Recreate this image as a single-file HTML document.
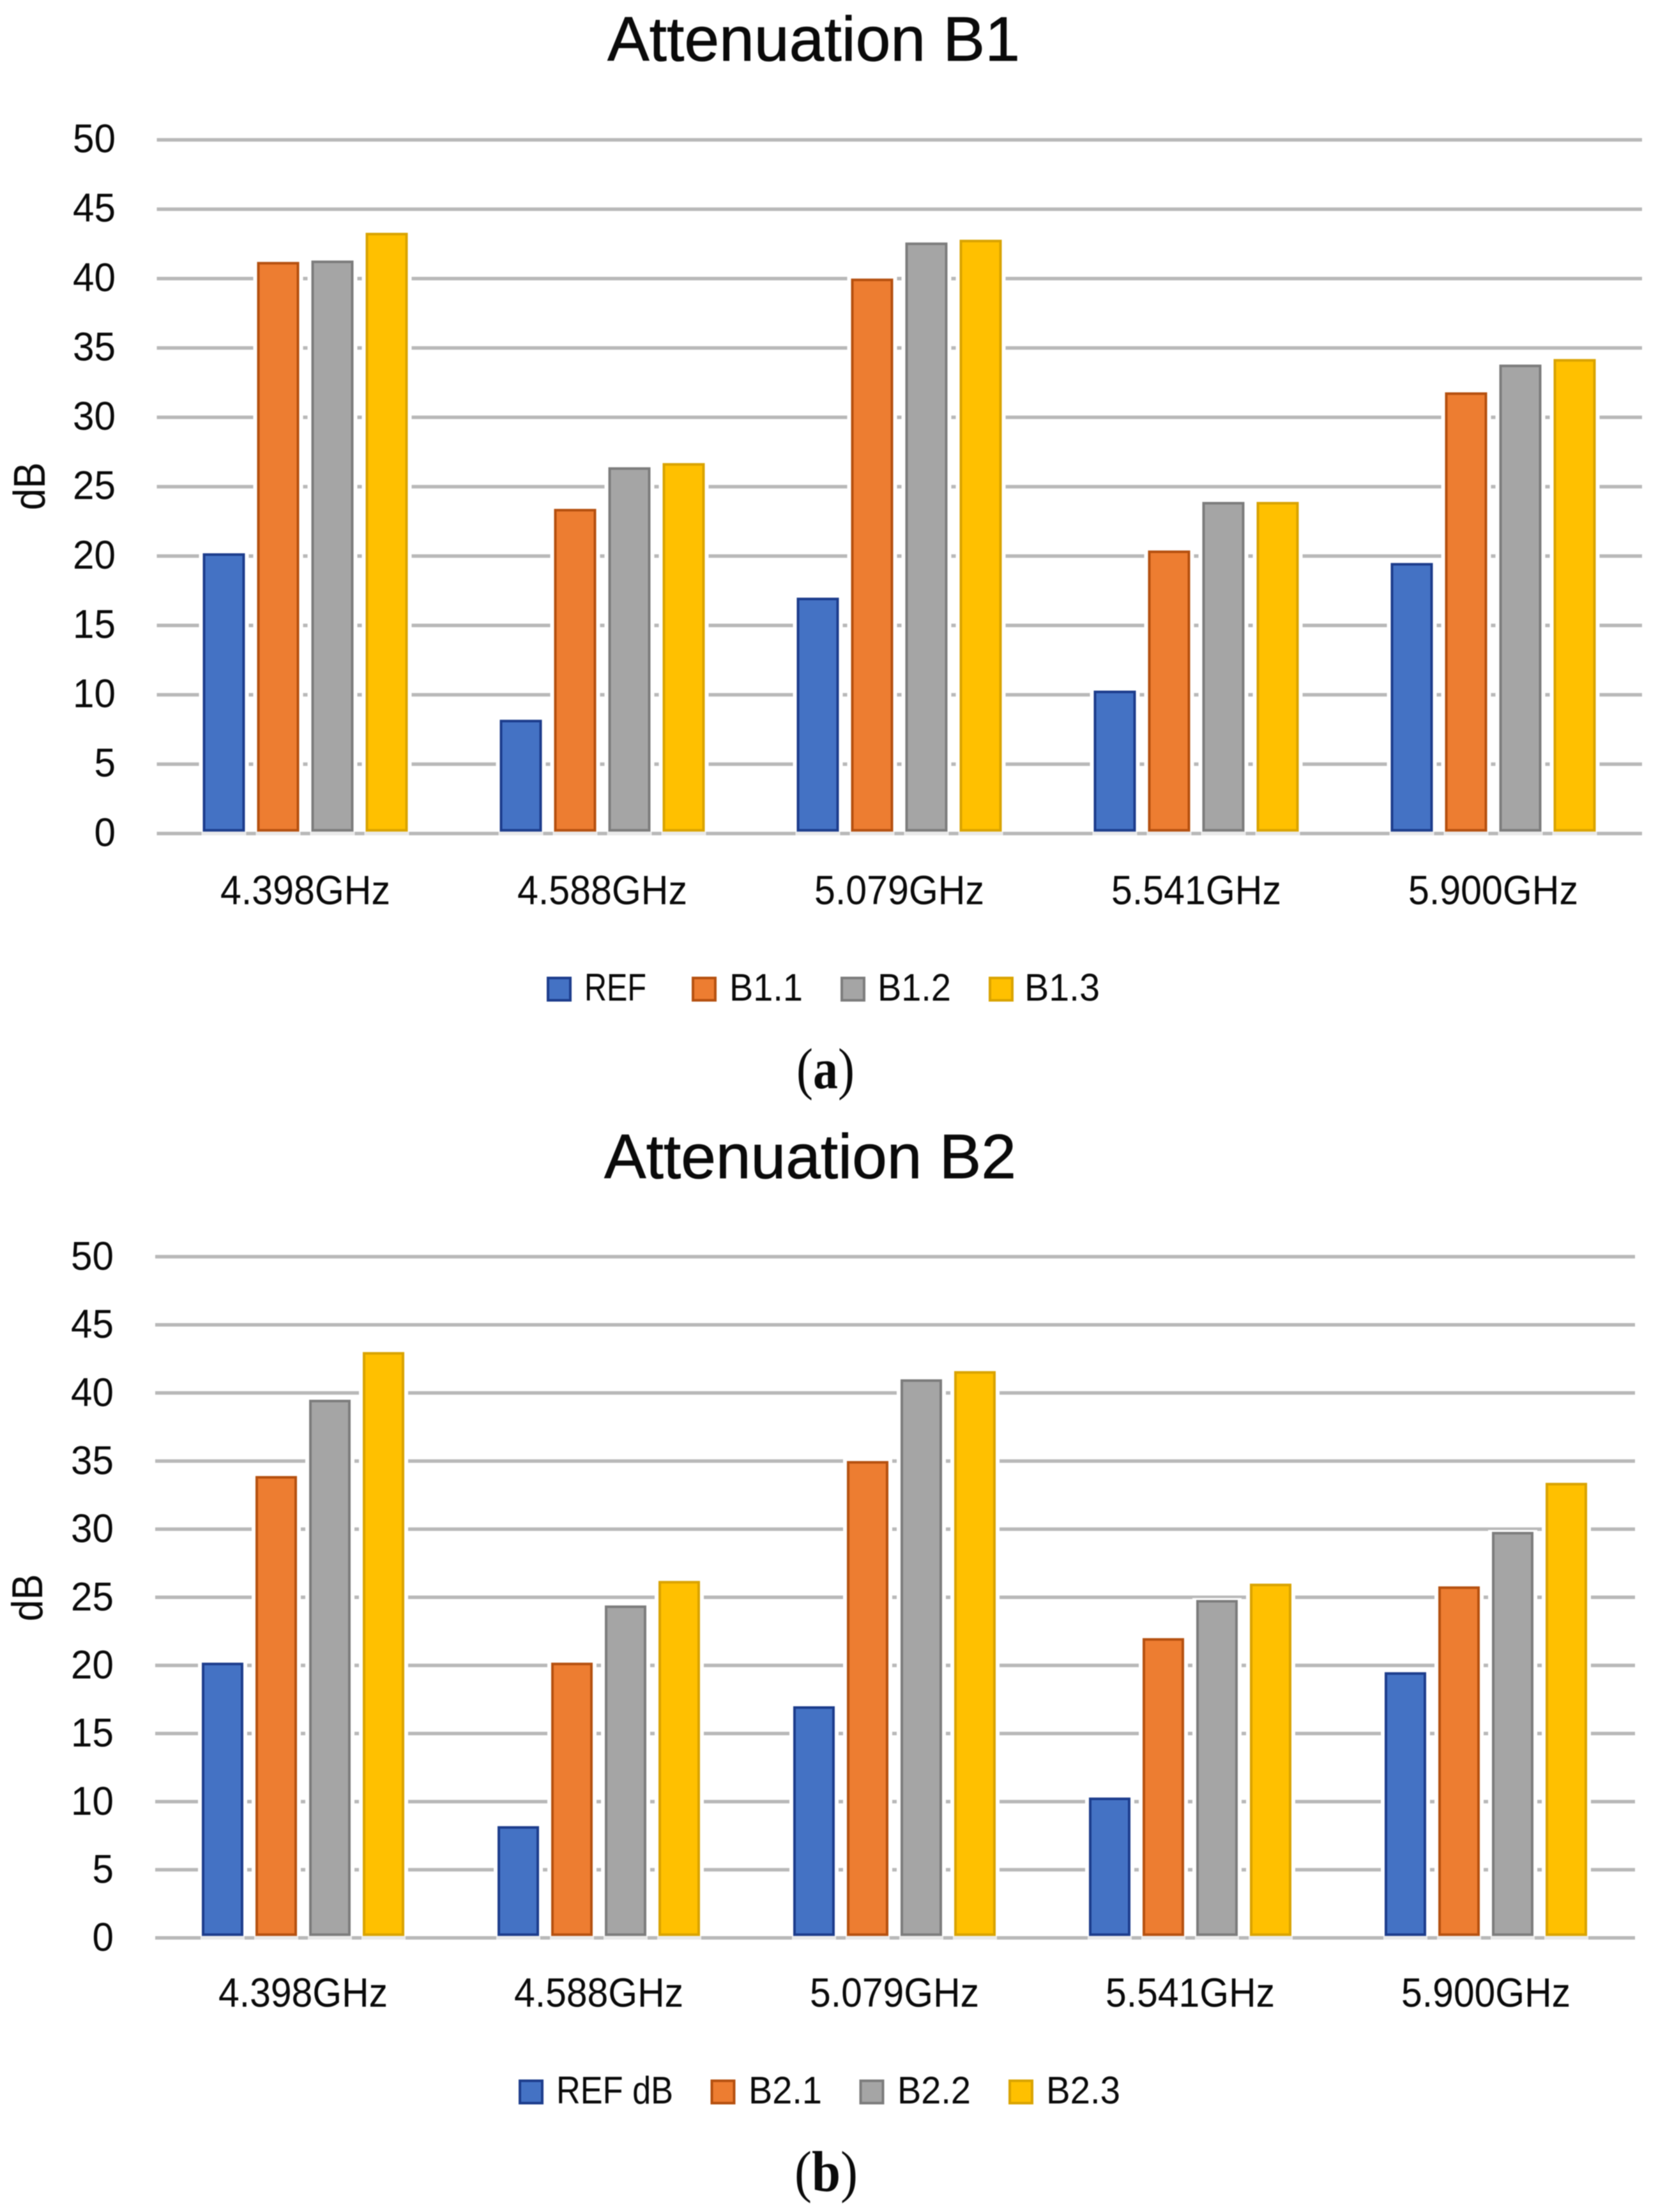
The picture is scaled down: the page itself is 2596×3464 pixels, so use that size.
<!DOCTYPE html>
<html lang="en">
<head>
<meta charset="utf-8">
<title>Attenuation B1 and B2</title>
<style>
  html, body { margin: 0; padding: 0; background: #fff; }
  svg { display: block; filter: blur(0.7px); }
  text { font-family: "Liberation Sans", sans-serif; fill: #0a0a0a; }
  .chart-title { stroke: #0a0a0a; stroke-width: 0.8; }
  .caption { font-family: "Liberation Serif", serif; }
</style>
</head>
<body>
<svg id="figure" xmlns="http://www.w3.org/2000/svg" width="2596" height="3464" viewBox="0 0 2596 3464">
  <rect x="0" y="0" width="2596" height="3464" fill="#ffffff"/>

  <g id="chart-a">
    <text class="chart-title" x="951" y="95" font-size="98" textLength="646" lengthAdjust="spacingAndGlyphs">Attenuation B1</text>
    <text transform="translate(70 799) rotate(-90)" font-size="70" textLength="75" lengthAdjust="spacingAndGlyphs">dB</text>
    <g id="plot-a"></g>
    <g>
      <rect x="858" y="1531.5" width="35" height="35" fill="#4472c4" stroke="#1c3c8c" stroke-width="4"/>
      <text x="915" y="1567" font-size="60" textLength="97" lengthAdjust="spacingAndGlyphs">REF</text>
      <rect x="1085" y="1531.5" width="35" height="35" fill="#ed7d31" stroke="#b5500f" stroke-width="4"/>
      <text x="1142" y="1567" font-size="60" textLength="115" lengthAdjust="spacingAndGlyphs">B1.1</text>
      <rect x="1318" y="1531.5" width="35" height="35" fill="#a5a5a5" stroke="#7c7c7c" stroke-width="4"/>
      <text x="1374" y="1567" font-size="60" textLength="115" lengthAdjust="spacingAndGlyphs">B1.2</text>
      <rect x="1550" y="1531.5" width="35" height="35" fill="#ffc000" stroke="#d9a300" stroke-width="4"/>
      <text x="1604" y="1567" font-size="60" textLength="118" lengthAdjust="spacingAndGlyphs">B1.3</text>
    </g>
    <text class="caption" x="1247" y="1704" font-size="90" textLength="91" lengthAdjust="spacingAndGlyphs">(<tspan font-weight="bold">a</tspan>)</text>
  </g>

  <g id="chart-b">
    <text class="chart-title" x="946" y="1845" font-size="98" textLength="645" lengthAdjust="spacingAndGlyphs">Attenuation B2</text>
    <text transform="translate(66 2539) rotate(-90)" font-size="68" textLength="74" lengthAdjust="spacingAndGlyphs">dB</text>
    <g id="plot-b"></g>
    <g>
      <rect x="814" y="3258.5" width="35" height="35" fill="#4472c4" stroke="#1c3c8c" stroke-width="4"/>
      <text x="871" y="3294" font-size="60" textLength="183" lengthAdjust="spacingAndGlyphs">REF dB</text>
      <rect x="1114.5" y="3258.5" width="35" height="35" fill="#ed7d31" stroke="#b5500f" stroke-width="4"/>
      <text x="1172" y="3294" font-size="60" textLength="115" lengthAdjust="spacingAndGlyphs">B2.1</text>
      <rect x="1347.5" y="3258.5" width="35" height="35" fill="#a5a5a5" stroke="#7c7c7c" stroke-width="4"/>
      <text x="1405" y="3294" font-size="60" textLength="115" lengthAdjust="spacingAndGlyphs">B2.2</text>
      <rect x="1581" y="3258.5" width="35" height="35" fill="#ffc000" stroke="#d9a300" stroke-width="4"/>
      <text x="1638" y="3294" font-size="60" textLength="116" lengthAdjust="spacingAndGlyphs">B2.3</text>
    </g>
    <text class="caption" x="1244" y="3431" font-size="90" textLength="99" lengthAdjust="spacingAndGlyphs">(<tspan font-weight="bold">b</tspan>)</text>
  </g>
</svg>

<script>
// Shared axis data
const categories = ['4.398GHz', '4.588GHz', '5.079GHz', '5.541GHz', '5.900GHz'];
const yTickLabels = ['0', '5', '10', '15', '20', '25', '30', '35', '40', '45', '50'];

// Chart (a) values in dB
const refB1 = [20.2, 8.2, 17.0, 10.3, 19.5];
const seriesB11 = [41.2, 23.4, 40.0, 20.4, 31.8];
const seriesB12 = [41.3, 26.4, 42.6, 23.9, 33.8];
const seriesB13 = [43.3, 26.7, 42.8, 23.9, 34.2];

// Chart (b) values in dB
const refB2 = [20.2, 8.2, 17.0, 10.3, 19.5];
const seriesB21 = [33.9, 20.2, 35.0, 22.0, 25.8];
const seriesB22 = [39.5, 24.4, 41.0, 24.8, 29.8];
const seriesB23 = [43.0, 26.2, 41.6, 26.0, 33.4];

const seriesColors = [
  { fill: '#4472c4', edge: '#1c3c8c' },
  { fill: '#ed7d31', edge: '#b5500f' },
  { fill: '#a5a5a5', edge: '#7c7c7c' },
  { fill: '#ffc000', edge: '#d9a300' }
];

const SVG_NS = 'http://www.w3.org/2000/svg';

function make(tag, attrs, parent) {
  const el = document.createElementNS(SVG_NS, tag);
  Object.keys(attrs).forEach(function (k) { el.setAttribute(k, attrs[k]); });
  parent.appendChild(el);
  return el;
}

function drawChart(cfg) {
  const root = document.getElementById(cfg.target);
  const yMax = Number(yTickLabels[yTickLabels.length - 1]);

  function yScale(v) { return cfg.yZero - (v / yMax) * (cfg.yZero - cfg.yTop); }
  function groupX(i) { return cfg.left + cfg.pitch * i; }
  function barX(i, s) {
    const total = cfg.barWidth * cfg.series.length + (cfg.barStep - cfg.barWidth) * (cfg.series.length - 1);
    return groupX(i) + (cfg.pitch - total) / 2 + cfg.barStep * s;
  }

  yTickLabels.forEach(function (label) {
    const v = Number(label);
    const line = make('rect', { x: cfg.left, y: yScale(v) - 2.75, width: cfg.right - cfg.left, height: 5.5, fill: '#b8b8b8' }, root);
    
    
    const tick = make('text', { x: cfg.tickRight, y: yScale(v) + cfg.tickDrop, 'font-size': 63, 'text-anchor': 'end', textLength: label.length * 33.5, lengthAdjust: 'spacingAndGlyphs' }, root);
    
    
    tick.textContent = label;
  });

  categories.forEach(function (cat, i) {
    const xl = make('text', { x: groupX(i) + cfg.pitch / 2, y: cfg.xLabelBase, 'font-size': 64, 'text-anchor': 'middle', textLength: cfg.xLabelWidth, lengthAdjust: 'spacingAndGlyphs' }, root);
    
    
    xl.textContent = cat;

    cfg.series.forEach(function (values, s) {
      const top = yScale(values[i]);
      const bottom = yScale(0) - 3;
      const halo = make('rect', { x: barX(i, s) - 6, y: top - 3, width: cfg.barWidth + 12, height: bottom - top + 3, fill: '#ffffff' }, root);
      
      
      const shade = make('rect', { x: barX(i, s) - 2, y: bottom, width: cfg.barWidth + 4, height: 7, fill: '#ffffff', opacity: 0.7 }, root);
      
      
      const bar = make('rect', { x: barX(i, s) + 2, y: top + 2, width: cfg.barWidth - 4, height: bottom - top - 4, fill: seriesColors[s].fill, stroke: seriesColors[s].edge, 'stroke-width': 4 }, root);
      
      
    });
  });
}

drawChart({
  target: 'plot-a',
  series: [refB1, seriesB11, seriesB12, seriesB13],
  names: ['ref', 'b1-1', 'b1-2', 'b1-3'],
  left: 245.5, right: 2571, pitch: 465, barWidth: 66, barStep: 85,
  yZero: 1305.3, yTop: 219, tickRight: 181, tickDrop: 19.5, xLabelBase: 1416, xLabelWidth: 266
});

drawChart({
  target: 'plot-b',
  series: [refB2, seriesB21, seriesB22, seriesB23],
  names: ['ref-db', 'b2-1', 'b2-2', 'b2-3'],
  left: 243, right: 2560, pitch: 463, barWidth: 65, barStep: 84,
  yZero: 3034.7, yTop: 1968, tickRight: 178, tickDrop: 20.5, xLabelBase: 3142.7, xLabelWidth: 265
});
</script>
</body>
</html>
